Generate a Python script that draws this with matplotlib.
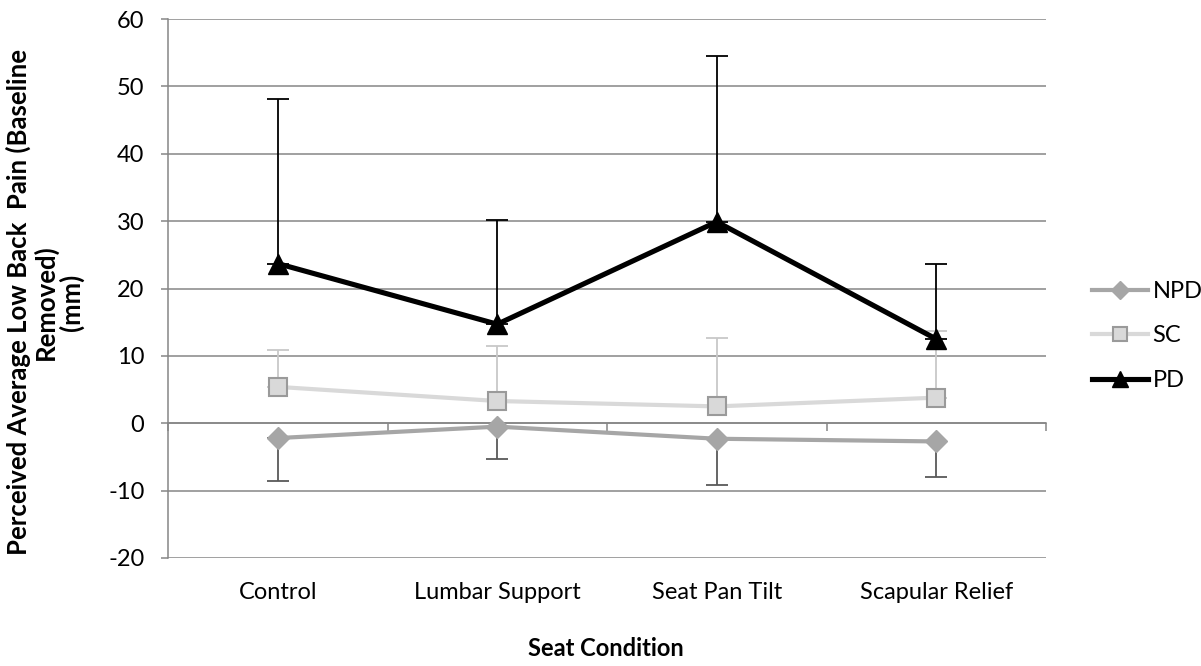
import matplotlib
matplotlib.use("Agg")
import matplotlib.pyplot as plt
import numpy as np

categories = ["Control", "Lumbar Support", "Seat Pan Tilt", "Scapular Relief"]
npd = [-2.2, -0.5, -2.3, -2.7]
npd_err_low = [6.4, 4.8, 6.9, 5.3]
sc = [5.4, 3.3, 2.5, 3.8]
sc_err_up = [5.5, 8.1, 10.2, 9.9]
pd = [23.7, 14.7, 29.9, 12.5]
pd_err_up = [24.5, 15.4, 24.6, 11.1]
yticks = [-20, -10, 0, 10, 20, 30, 40, 50, 60]

plt.rcParams['font.family'] = ['Lato', 'DejaVu Sans']
FS = 17

fig = plt.figure(figsize=(12.01, 6.66), dpi=100)
ax = fig.add_axes([168/1201, 1-558/666, 878/1201, 539/666])

x = np.arange(len(categories))
grid_c = '#868686'

ax.set_xlim(-0.5, 3.5)
ax.set_ylim(-20, 60)
ax.set_yticks(yticks)
ax.set_yticklabels([str(v) for v in yticks], fontsize=FS)
ax.yaxis.grid(True, color=grid_c, lw=1.1)
ax.set_axisbelow(True)
for s in ['top', 'right', 'bottom']:
    ax.spines[s].set_visible(False)
ax.spines['left'].set_color(grid_c)
ax.spines['left'].set_linewidth(1.1)
ax.tick_params(axis='y', length=5, color=grid_c, width=1.1, pad=12)
ax.set_xticks(x)
ax.set_xticklabels(categories, fontsize=FS)
ax.tick_params(axis='x', length=0, pad=17)

# x axis line at zero with category boundary ticks
sec = ax.secondary_xaxis(0.25)
sec.set_xticks(np.arange(-0.5, 4.0, 1.0))
sec.set_xticklabels([])
sec.tick_params(axis='x', length=6, width=1.1, color=grid_c, direction='out')
sec.spines['bottom'].set_color(grid_c)
sec.spines['bottom'].set_linewidth(1.1)

# NPD
ax.errorbar(x, npd, yerr=[npd_err_low, [0]*4], fmt='none', ecolor='#595959',
            elinewidth=1.3, capsize=8, capthick=1.3, zorder=3)
ax.plot(x, npd, color='#A6A6A6', lw=3.0, marker='D', ms=11,
        mfc='#A6A6A6', mec='#A6A6A6', label='NPD', zorder=4)
# SC
ax.errorbar(x, sc, yerr=[[0]*4, sc_err_up], fmt='none', ecolor='#C8C8C8',
            elinewidth=1.3, capsize=8, capthick=1.3, zorder=5)
ax.plot(x, sc, color='#D9D9D9', lw=3.0, marker='s', ms=13,
        mfc='#D9D9D9', mec='#9A9A9A', mew=1.5, label='SC', zorder=6)
# PD
ax.errorbar(x, pd, yerr=[[0]*4, pd_err_up], fmt='none', ecolor='black',
            elinewidth=1.3, capsize=8, capthick=1.3, zorder=7)
ax.plot(x, pd, color='black', lw=3.7, marker='^', ms=14,
        mfc='black', mec='black', label='PD', zorder=8)

fig.legend(loc='center left', bbox_to_anchor=(1083/1201, 1-336/666),
           frameon=False, fontsize=FS, handlelength=2.35, handletextpad=0.2,
           labelspacing=1.0, borderaxespad=0, markerscale=0.8)

fig.text(606/1201, 1-648/666, 'Seat Condition', ha='center', va='center',
         fontsize=FS, fontweight='bold')
fig.text(45/1201, 1-302/666, 'Perceived Average Low Back  Pain (Baseline\nRemoved)\n(mm)',
         rotation=90, ha='center', va='center', fontsize=18.5, fontweight='bold',
         multialignment='center', linespacing=1.05)

fig.savefig('out.png', dpi=100)
